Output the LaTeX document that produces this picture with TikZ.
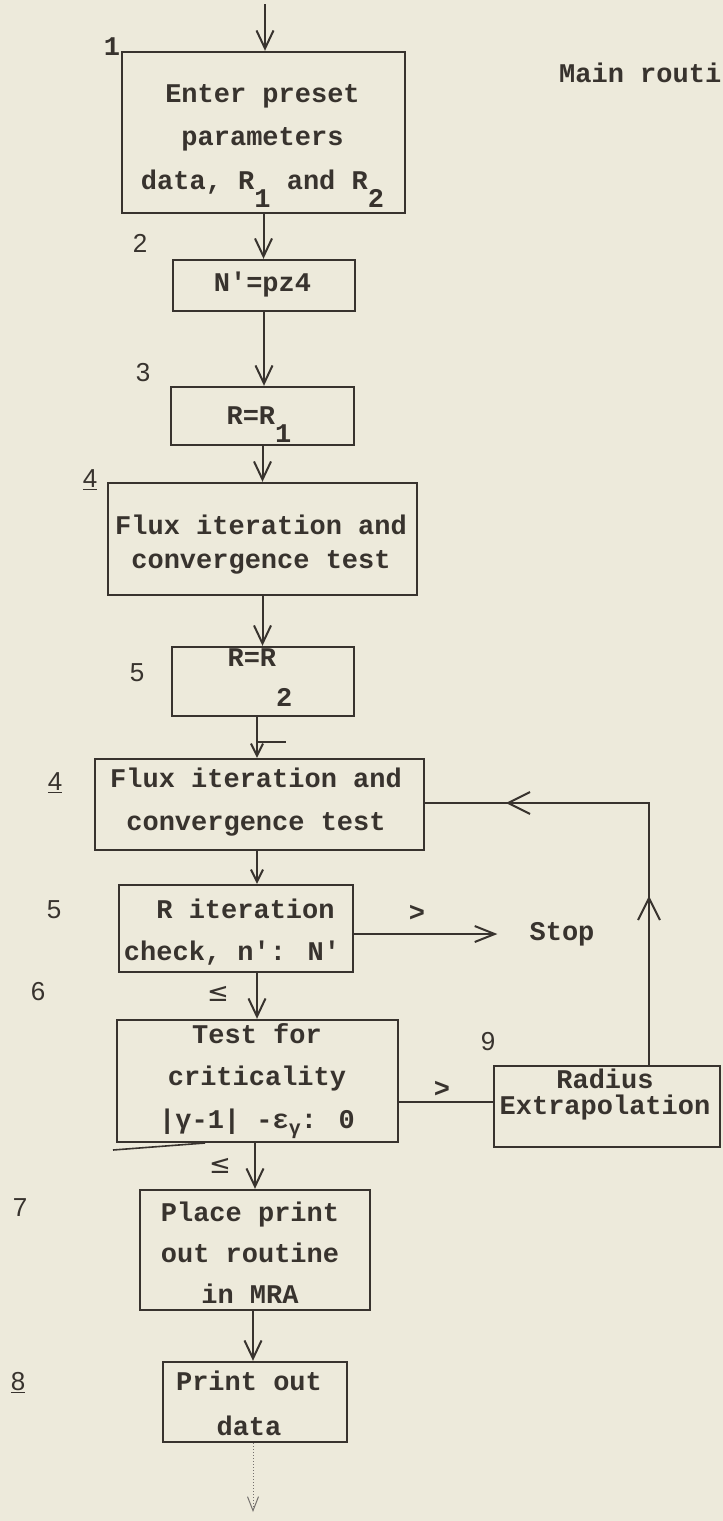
\documentclass[tikz,border=0pt]{standalone}
\usepackage{fontspec}
\usetikzlibrary{arrows.meta,decorations.markings}
\newfontfamily\tw{Liberation Mono Bold}
\newfontfamily\hw{Liberation Sans}
\newfontfamily\symf{DejaVu Sans}
\definecolor{paper}{HTML}{EDEADB}
\definecolor{inkc}{HTML}{38332E}
\newcommand\lowr[1]{\raisebox{-18pt}[0pt][0pt]{#1}}
\tikzset{
  ink/.style={draw=inkc, line width=2pt},
  box/.style={draw=inkc, line width=2.4pt, rectangle, inner sep=0pt},
  txt/.style={text=inkc, inner sep=0pt, align=center, font=\tw\fontsize{27}{43}\selectfont},
  num/.style={text=inkc, inner sep=0pt, font=\hw\fontsize{26}{26}\selectfont},
  arr/.style={ink, -{Straight Barb[length=18pt,width=17pt,line width=2pt]}},
  bigtip/.tip={Straight Barb[length=22pt,width=22pt,line width=2pt]},
}
\begin{document}
\begin{tikzpicture}[x=1pt,y=-1pt]
\fill[paper] (0,0) rectangle (723,1521);
\useasboundingbox (0,0) rectangle (723,1521);

% boxes
\node[box, minimum width=283pt, minimum height=161pt] (b1) at (263.5,132.5) {};
\node[box, minimum width=182pt, minimum height=51pt] (b2) at (264,285.5) {};
\node[box, minimum width=183pt, minimum height=58pt] (b3) at (262.5,416) {};
\node[box, minimum width=309pt, minimum height=112pt] (b4a) at (262.5,539) {};
\node[box, minimum width=182pt, minimum height=69pt] (b5a) at (263,681.5) {};
\node[box, minimum width=329pt, minimum height=91pt] (b4b) at (259.5,804.5) {};
\node[box, minimum width=234pt, minimum height=87pt] (b5b) at (236,928.5) {};
\node[box, minimum width=281pt, minimum height=122pt] (b6) at (257.5,1081) {};
\node[box, minimum width=226pt, minimum height=81pt] (b9) at (607,1106.5) {};
\node[box, minimum width=230pt, minimum height=120pt] (b7) at (255,1250) {};
\node[box, minimum width=184pt, minimum height=80pt] (b8) at (255,1402) {};

% box texts
\node[txt, font=\tw\fontsize{27}{43.5}\selectfont] (t1) at (262.5,139) {Enter preset\\parameters\\data, R\lowr{1} and R\lowr{2}};
\node[txt] (t2) at (262.5,285) {N'=pz4};
\node[txt] (t3) at (259,416) {R=R\lowr{1}};
\node[txt, font=\tw\fontsize{27}{34}\selectfont] (t4a) at (261,545) {Flux iteration and\\convergence test};
\node[txt] (t5a) at (260,658) {R=R\raisebox{-40pt}[0pt][0pt]{2}};
\node[txt] (t4b) at (256,802) {Flux iteration and\\convergence test};
\node[txt, align=left, font=\tw\fontsize{27}{42}\selectfont] (t5b) at (232,932) {~~R iteration\\check, n': N'};
\node[txt, font=\tw\fontsize{27}{42.5}\selectfont] (t6) at (257,1081) {Test for\\criticality\\|γ-1| -ε\raisebox{-6pt}{\fontsize{20}{20}\selectfont γ}: 0};
\node[txt, font=\tw\fontsize{27}{26}\selectfont] (t9) at (605,1095) {Radius\\Extrapolation};
\node[txt, font=\tw\fontsize{27}{41}\selectfont] (t7) at (250,1253) {Place print\\out routine\\in MRA};
\node[txt, font=\tw\fontsize{27}{45}\selectfont] (t8) at (249,1403) {Print out\\data};

% title and free texts
\node[txt, anchor=west] (title) at (559,73) {Main routi};
\node[txt] (stop) at (562,934) {Stop};
\node[txt] (gt1) at (417,913) {>};
\node[txt] (gt2) at (442,1089) {>};
\node[text=inkc, inner sep=0pt, font=\symf\fontsize{26}{26}\selectfont] (le1) at (218,994) {≤};
\node[text=inkc, inner sep=0pt, font=\symf\fontsize{26}{26}\selectfont] (le2) at (220,1166) {≤};

% step numbers
\node[txt] (n1) at (112,47) {1};
\node[num] (n2) at (140,243) {2};
\node[num] (n3) at (143,373) {3};
\node[num] (n4a) at (90,480) {\underline{4}};
\node[num] (n5a) at (137,673) {5};
\node[num] (n4b) at (55,783) {\underline{4}};
\node[num] (n5b) at (54,910) {5};
\node[num] (n6) at (38,992) {6};
\node[num] (n7) at (20,1208) {7};
\node[num] (n8) at (18,1383) {\underline{8}};
\node[num] (n9) at (488,1042) {9};

% connectors
\coordinate (start) at (265,4);
\coordinate (c5) at (257,0);
\coordinate (c7) at (255,0);
\coordinate (c8) at (253,0);
\coordinate (r6) at (0,1102);
\coordinate (fb) at (649,803);
\coordinate (end) at (253,1512);

\draw[arr] (start) -- (start |- b1.north);
\draw[arr] (b1.south) -- (b1.south |- b2.north);
\draw[arr] (b2.south) -- (b2.south |- b3.north);
\draw[arr] (b3.south) -- (b3.south |- b4a.north);
\draw[arr] (b4a.south) -- (b4a.south |- b5a.north);
\draw[ink, -{Straight Barb[length=12pt,width=12pt,line width=2pt]}] (c5 |- b5a.south) -- (c5 |- b4b.north);
\draw[ink] (257,742) -- (286,742);
\draw[ink, -{Straight Barb[length=12pt,width=12pt,line width=2pt]}] (c5 |- b4b.south) -- (c5 |- b5b.north);
\draw[arr] (c5 |- b5b.south) -- (c5 |- b6.north);
\draw[arr] (c7 |- b6.south) -- (c7 |- b7.north);
\draw[arr] (c8 |- b7.south) -- (c8 |- b8.north);
\draw[draw=inkc!70, line width=1pt, dotted, -{Straight Barb[length=14pt,width=11pt,line width=1pt]}] (c8 |- b8.south) -- (end);
\draw[ink, -{Straight Barb[length=20pt,width=16pt,line width=2pt]}] (b5b.east |- stop) -- ([xshift=-32pt]stop.west);
\draw[ink] (b6.east |- r6) -- (b9.west |- r6);
\draw[ink, postaction={decorate},
  decoration={markings,
    mark=at position 169pt with {\arrow{bigtip}},
    mark=at position 405pt with {\arrow{bigtip}}}]
  (b9.north -| fb) -- (fb) -- (fb -| b4b.east);
\draw[ink, line width=1.6pt] (113,1150) -- (205,1143);
\end{tikzpicture}
\end{document}
